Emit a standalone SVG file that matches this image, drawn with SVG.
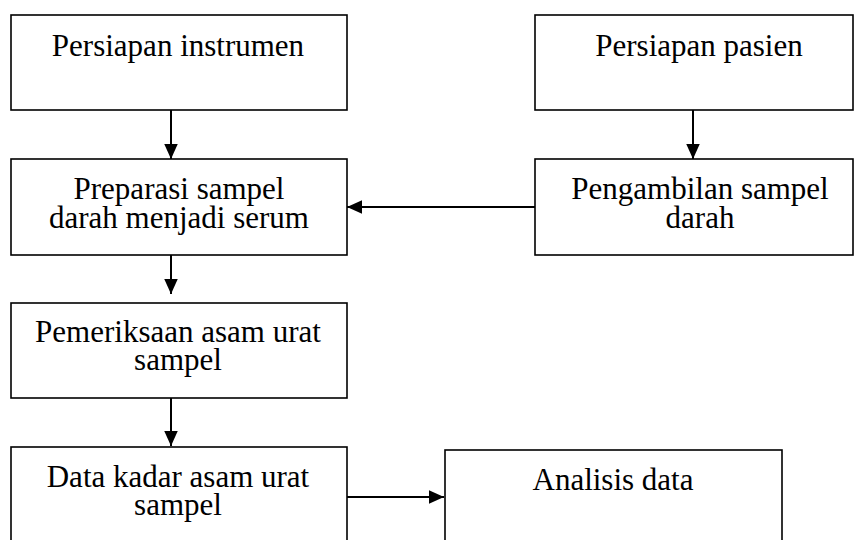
<svg xmlns="http://www.w3.org/2000/svg" width="862" height="540" viewBox="0 0 862 540">
<style>
.box{fill:#fff;stroke:#000;stroke-width:1.6}
.t{font-family:'Liberation Serif','Times New Roman','DejaVu Serif',serif;font-size:31px;fill:#000;text-anchor:middle}
.c{stroke:#000;stroke-width:2;fill:none}
</style>
<defs>
<marker id="ah" viewBox="0 0 10 10" refX="10" refY="5" markerWidth="15" markerHeight="15" markerUnits="userSpaceOnUse" orient="auto">
<path d="M0,0.5 L10,5 L0,9.5 z" fill="#000"/>
</marker>
</defs>
<rect width="862" height="540" fill="#fff"/>
<g id="n1"><rect class="box" x="11" y="15" width="336" height="95"/><text class="t" x="178" y="56">Persiapan instrumen</text></g>
<g id="n2"><rect class="box" x="535" y="15" width="318" height="95"/><text class="t" x="699" y="56">Persiapan pasien</text></g>
<g id="n3"><rect class="box" x="11" y="159" width="336" height="96"/><text class="t" x="179" y="199">Preparasi sampel</text><text class="t" x="179" y="228">darah menjadi serum</text></g>
<g id="n4"><rect class="box" x="535" y="159" width="318" height="96"/><text class="t" x="700" y="199">Pengambilan sampel</text><text class="t" x="700" y="228">darah</text></g>
<g id="n5"><rect class="box" x="11" y="303" width="336" height="95"/><text class="t" x="178" y="342">Pemeriksaan asam urat</text><text class="t" x="178" y="370">sampel</text></g>
<g id="n6"><rect class="box" x="11" y="447" width="336" height="100"/><text class="t" x="178" y="487">Data kadar asam urat</text><text class="t" x="178" y="515">sampel</text></g>
<g id="n7"><rect class="box" x="445" y="450" width="337" height="100"/><text class="t" x="613" y="490">Analisis data</text></g>
<g id="connectors">
<line class="c" x1="171" y1="110" x2="171" y2="159" marker-end="url(#ah)"/>
<line class="c" x1="693" y1="110" x2="693" y2="159" marker-end="url(#ah)"/>
<line class="c" x1="535" y1="207" x2="347" y2="207" marker-end="url(#ah)"/>
<line class="c" x1="171" y1="255" x2="171" y2="294" marker-end="url(#ah)"/>
<line class="c" x1="171" y1="398" x2="171" y2="446" marker-end="url(#ah)"/>
<line class="c" x1="347" y1="497" x2="444" y2="497" marker-end="url(#ah)"/>
</g>
</svg>
